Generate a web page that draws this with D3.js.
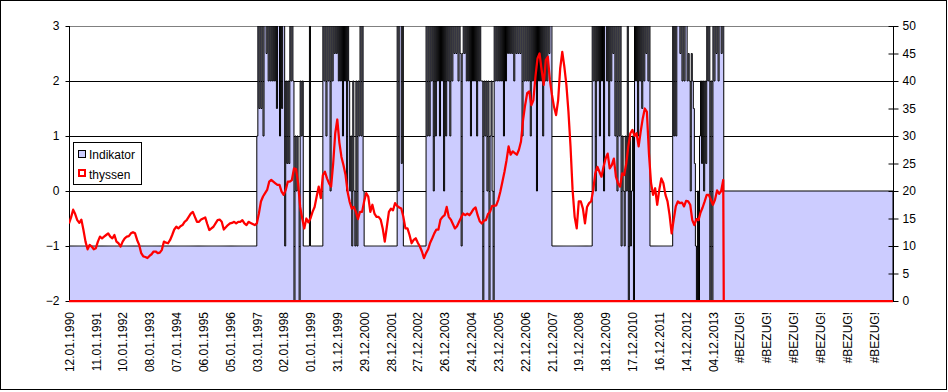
<!DOCTYPE html>
<html><head><meta charset="utf-8">
<script src="https://cdn.jsdelivr.net/npm/d3@7"></script>
<style>body{margin:0;background:#fff}svg{display:block}text{font-family:"Liberation Sans",Arial,sans-serif;font-size:12px;fill:#000}</style>
</head><body>
<svg id="chart" width="948" height="392"></svg>
<script>
// ---- data ----
const tickLabels = ["12.01.1990","11.01.1991","10.01.1992","08.01.1993","07.01.1994","06.01.1995","05.01.1996","03.01.1997","02.01.1998","01.01.1999","31.12.1999","29.12.2000","28.12.2001","27.12.2002","26.12.2003","24.12.2004","23.12.2005","22.12.2006","21.12.2007","19.12.2008","18.12.2009","17.12.2010","16.12.2011","14.12.2012","04.12.2013","#BEZUG!","#BEZUG!","#BEZUG!","#BEZUG!","#BEZUG!","#BEZUG!"];
const weeksPerLabel = 52;
const nWeeks = 1598;
const dataEndWeek = 1268;
const leftTicks = [-2,-1,0,1,2,3];
const rightTicks = [0,5,10,15,20,25,30,35,40,45,50];
// Indikator: one letter per two weeks, 26 per year; A=-2 ... K=3 in steps of 0.5
const indikatorCodes = [
"CCCCCCCCCCCCCCCCCCCCCCCCCC",
"CCCCCCCCCCCCCCCCCCCCCCCCCC",
"CCCCCCCCCCCCCCCCCCCCCCCCCC",
"CCCCCCCCCCCCCCCCCCCCCCCCCC",
"CCCCCCCCCCCCCCCCCCCCCCCCCC",
"CCCCCCCCCCCCCCCCCCCCCCCCCC",
"CCCCCCCCCCCCCCCCCCCCCCCCCC",
"GKHKHKGKKJKIKIKIKIKHKKGKHK",
"KCIFIFKIKIAGEGEAIGICCCCCCK",
"CCCCCCCCCCCCKIKGKIKEKIKJKJ",
"KIKIKGKIKEKIEGCIECICIGKGKE",
"CCCCCCCCCCCCCCCCCCCCCCCCCC",
"CCCCCCKEKKFKCCCCCCCCCCCCCC",
"CCCCCCCCKGKGKIKEKGKIKGKIKE",
"KGKIKGKIKJKJKIKJCJKJKIKIKG",
"KIKIKGKIKIIAIGIEIAGIEAKIKI",
"KIKIKGKIKJKJKJKIKJKJKJKGKI",
"KIKIKGKIKIKEKIKIKGKIKIKJKK",
"CCCCCCCCCCCCCCCCCCCCCCCCCC",
"CCCCCCCCCCCCCKIKEKIKGKIKEK",
"KIKGKIKJKGKEKGKCGECGEKAGCE",
"GAKIKGKIKHKIKJKIKCCCCCCCCC",
"CCCCCCCCCCCCCKGKGKKKJKIKIK",
"KIJIEJIHFCAEAGIFIEIFKIKAIA",
"KIKJKIKKJKK"
];
const indikatorTailValue = 0;
// thyssen: one value every four weeks, 13 per year
const thyssenByYear = [
[14.1,15.2,16.6,15.8,14.7,14.2,14.8,12.9,10.8,9.4,10.2,9.9,9.4],
[9.6,10.8,11.7,11.4,11.7,12.0,12.3,11.7,11.4,12.0,10.8,10.5,9.9],
[10.8,11.4,11.7,11.8,12.3,12.5,12.3,11.1,10.2,8.7,8.1,8.0,7.8],
[8.2,8.5,9.0,9.0,8.7,8.8,9.3,10.8,10.6,10.5,11.1,12.0,13.0],
[13.5,13.2,13.6,13.8,14.4,14.7,15.3,15.9,16.2,15.3,14.4,14.4,14.8],
[15.0,15.2,14.0,12.9,13.2,13.5,14.1,14.7,14.8,14.4,13.0,13.4,13.8],
[14.1,14.2,14.4,14.1,14.4,14.4,14.7,14.1,13.8,14.4,14.2,14.0,13.8],
[14.1,15.9,18.1,19.0,19.6,20.2,21.7,22.0,21.7,21.4,21.1,21.1,19.9],
[19.3,20.2,21.7,21.7,22.0,24.1,24.0,21.4,17.1,15.0,13.2,15.0,14.3],
[15.0,16.2,17.1,19.0,20.8,18.7,22.9,23.5,22.3,21.4,20.8,25.0,30.5],
[33.0,28.8,26.2,24.7,22.9,19.8,18.0,16.8,17.1,16.2,14.9,16.2,16.2],
[18.1,19.6,19.0,16.2,17.5,15.9,15.3,15.3,14.8,13.2,10.8,13.5,16.2],
[16.8,16.5,17.8,17.3,17.0,16.8,15.3,13.2,13.2,12.0,10.5,11.1,11.4],
[10.6,9.9,9.0,7.8,8.7,9.4,10.6,11.4,12.3,13.0,13.0,14.8,15.3],
[15.6,17.1,15.3,14.8,14.0,13.2,13.6,14.4,15.2,15.9,15.6,15.9,15.6],
[16.1,16.7,17.0,15.6,14.5,14.1,14.6,14.7,15.8,16.2,17.3,17.3,17.4],
[18.4,19.9,21.7,23.5,25.6,28.1,26.6,27.2,26.9,26.6,27.5,29.0,32.9],
[35.6,37.8,38.1,35.6,36.5,40.8,44.1,45.0,42.0,39.3,43.8,44.4,40.2],
[37.5,35.3,33.8,36.5,42.3,45.3,42.6,39.3,34.4,28.1,20.2,15.3,13.2],
[18.1,18.1,16.8,14.1,17.1,17.8,18.1,20.2,23.2,24.4,23.5,22.6,24.4],
[25.9,26.8,24.1,24.7,25.9,22.6,21.4,20.8,23.2,22.9,25.0,28.1,30.5],
[31.1,30.0,30.5,28.1,30.8,33.2,35.0,34.4,26.8,21.5,19.3,20.5,17.5],
[20.2,22.3,21.4,19.3,18.1,15.6,12.3,14.8,17.2,18.1,17.8,17.9,17.2],
[18.2,18.1,17.5,14.7,13.8,14.9,14.7,16.1,17.0,18.1,19.3,19.3,18.4],
[17.5,18.4,20.1,19.5,20.0,22.0]
];
const thyssenTailValue = 0;
const codeBase = "ABCDEFGHIJK";

// ---- build series ----
const indPts = [];
indikatorCodes.forEach((s, yi) => {
  for (let c = 0; c < s.length; c++) indPts.push([yi*52 + c*2, -2 + codeBase.indexOf(s[c]) * 0.5]);
});
indPts.push([dataEndWeek + 1, indikatorTailValue], [nWeeks - 1, indikatorTailValue]);
const thyPts = [];
thyssenByYear.forEach((arr, yi) => arr.forEach((v, j) => thyPts.push([yi*52 + j*4, v])));
thyPts.push([dataEndWeek + 1, thyssenTailValue], [nWeeks - 1, thyssenTailValue]);

// ---- chart ----
const svg = d3.select("#chart");
const L = 69, R = 893, T = 26, B = 301;
svg.append("rect").attr("x",0.5).attr("y",0.5).attr("width",946).attr("height",389).attr("fill","#fff").attr("stroke","#000");

const x = d3.scaleLinear().domain([0, nWeeks-1]).range([L, R]);
const yL = d3.scaleLinear().domain([-2, 3]).range([B, T]);
const yR = d3.scaleLinear().domain([0, 50]).range([B, T]);

// gridlines
svg.append("g").selectAll("line").data([-1,0,1,2]).join("line")
  .attr("x1",L).attr("x2",R).attr("y1",d=>Math.round(yL(d))+0.5).attr("y2",d=>Math.round(yL(d))+0.5)
  .attr("stroke","#000").attr("stroke-width",1);
svg.append("line").attr("x1",L).attr("x2",R).attr("y1",T+0.5).attr("y2",T+0.5).attr("stroke","#808080");

svg.append("clipPath").attr("id","clip").append("rect").attr("x",L).attr("y",T).attr("width",R-L).attr("height",B-T);

// Indikator area
const area = d3.area().curve(d3.curveStepAfter).x(d=>x(d[0])).y0(yL(-2)).y1(d=>yL(d[1]));
svg.append("path").datum(indPts).attr("d",area).attr("fill","#CCCCFF").attr("stroke","#000").attr("stroke-width",1).attr("clip-path","url(#clip)");

// axes
const axL = svg.append("g").attr("transform",`translate(${L+0.5},0)`).call(d3.axisLeft(yL).tickValues(leftTicks).tickSize(4).tickPadding(6).tickFormat(d3.format("d")));
const axR = svg.append("g").attr("transform",`translate(${R+0.5},0)`).call(d3.axisRight(yR).tickValues(rightTicks).tickSize(5).tickPadding(4));
[axL, axR].forEach(a => { a.select(".domain").attr("stroke","#000"); a.selectAll(".tick line").attr("stroke","#000"); a.selectAll("text").attr("font-size",12).attr("font-family","Liberation Sans, Arial, sans-serif").attr("fill","#000"); });
axR.selectAll(".tick line").attr("x1",-5);
axL.select(".domain").attr("d",`M0,${T}V${B}`);
axR.select(".domain").attr("d",`M0,${T}V${B}`);

// thyssen line
const line = d3.line().x(d=>x(d[0])).y(d=>yR(d[1]));
svg.append("line").attr("x1",L).attr("x2",R).attr("y1",B).attr("y2",B).attr("stroke","#FF0000").attr("stroke-width",2.25);
svg.append("path").datum(thyPts).attr("d",line).attr("fill","none").attr("stroke","#FF0000").attr("stroke-width",2.25).attr("stroke-linejoin","round").attr("clip-path","url(#clip)");

// x axis labels
const axX = svg.append("g").attr("transform",`translate(0,${B})`)
  .call(d3.axisBottom(x).tickValues(tickLabels.map((_,i)=>i*weeksPerLabel)).tickSize(0).tickFormat((d,i)=>tickLabels[i]));
axX.select(".domain").remove();
axX.selectAll("text").attr("transform","translate(0,11) rotate(-90)").attr("text-anchor","end").attr("x",0).attr("y",0).attr("dy","0.35em")
  .attr("font-size",12).attr("font-family","Liberation Sans, Arial, sans-serif").attr("fill","#000");

// legend
const lg = svg.append("g");
lg.append("rect").attr("x",73.5).attr("y",142.5).attr("width",68).attr("height",42).attr("fill","#fff").attr("stroke","#000");
lg.append("rect").attr("x",78.5).attr("y",150.5).attr("width",7).attr("height",7).attr("fill","#CCCCFF").attr("stroke","#000");
lg.append("rect").attr("x",79).attr("y",170).attr("width",6).attr("height",6).attr("fill","#fff").attr("stroke","#FF0000").attr("stroke-width",2);
lg.append("text").attr("x",89).attr("y",158.5).text("Indikator");
lg.append("text").attr("x",89).attr("y",178.5).text("thyssen");
</script>
</body></html>
